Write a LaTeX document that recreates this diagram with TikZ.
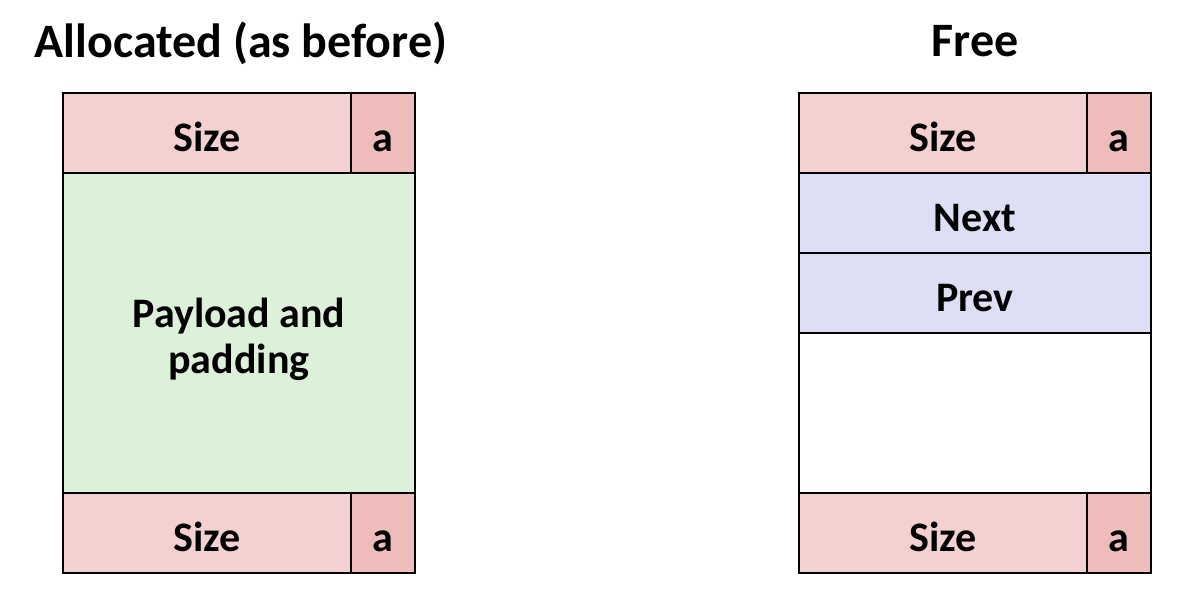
\documentclass[tikz,border=0pt]{standalone}
\usepackage{fontspec}
\setmainfont{Carlito}
\usetikzlibrary{positioning}
\definecolor{sizepink}{HTML}{F3D1D1}
\definecolor{bitpink}{HTML}{EFBCBC}
\definecolor{paygreen}{HTML}{DDF0DA}
\definecolor{linkblue}{HTML}{DEDEF4}

\begin{document}
\begin{tikzpicture}[x=0.5pt, y=-0.5pt,
  every node/.style={font=\bfseries\fontsize{21}{23}\selectfont},
  cell/.style={draw, line width=1pt, inner sep=0pt, outer sep=0pt, minimum height=40pt, anchor=north west, text height=20pt, text depth=2pt},
  title/.style={font=\bfseries\fontsize{24}{28}\selectfont}]
\useasboundingbox (0,0) rectangle (1191,602);
% allocated block
\node[title] (talloc) at (241,43) {Allocated (as before)};
\node[cell, fill=sizepink, minimum width=144pt] (hsize1) at (63,93) {Size};
\node[cell, fill=bitpink, minimum width=32pt] (hbit1) at (hsize1.north east) {a};
\node[cell, fill=paygreen, minimum width=176pt, minimum height=160pt] (pay) at (hsize1.south west) {};
\node[align=center, yshift=-3pt] (paytext) at (pay.center) {Payload and\\padding};
\node[cell, fill=sizepink, minimum width=144pt] (fsize1) at (pay.south west) {Size};
\node[cell, fill=bitpink, minimum width=32pt] (fbit1) at (fsize1.north east) {a};
% free block
\node[title] (tfree) at (975,41) {Free};
\node[cell, fill=sizepink, minimum width=144pt] (hsize2) at (799,93) {Size};
\node[cell, fill=bitpink, minimum width=32pt] (hbit2) at (hsize2.north east) {a};
\node[cell, fill=linkblue, minimum width=176pt] (next) at (hsize2.south west) {Next};
\node[cell, fill=linkblue, minimum width=176pt] (prev) at (next.south west) {Prev};
\node[cell, fill=white, minimum width=176pt, minimum height=80pt] (rest) at (prev.south west) {};
\node[cell, fill=sizepink, minimum width=144pt] (fsize2) at (rest.south west) {Size};
\node[cell, fill=bitpink, minimum width=32pt] (fbit2) at (fsize2.north east) {a};
\end{tikzpicture}
\end{document}
